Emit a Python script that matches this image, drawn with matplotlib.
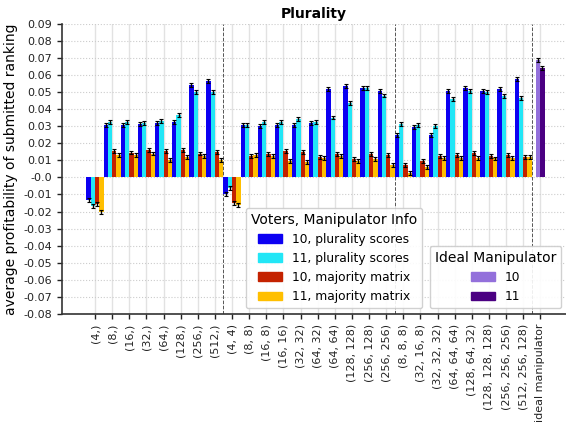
import matplotlib
matplotlib.use("Agg")
import matplotlib.pyplot as plt
import numpy as np
from matplotlib.patches import Patch

categories = ["(4,)", "(8,)", "(16,)", "(32,)", "(64,)", "(128,)", "(256,)", "(512,)",
              "(4, 4)", "(8, 8)", "(16, 8)", "(16, 16)", "(32, 32)", "(64, 32)", "(64, 64)",
              "(128, 128)", "(256, 128)", "(256, 256)",
              "(8, 8, 8)", "(32, 16, 8)", "(32, 32, 32)", "(64, 64, 64)", "(128, 64, 32)",
              "(128, 128, 128)", "(256, 256, 256)", "(512, 256, 128)"]
ideal_label = "ideal manipulator"

v10_plur = [-0.0132, 0.0307, 0.0305, 0.0311, 0.0317, 0.0322, 0.0541, 0.0563,
            -0.0097, 0.0305, 0.0301, 0.0307, 0.0307, 0.0320, 0.0516, 0.0535, 0.0523, 0.0504,
            0.0248, 0.0293, 0.0246, 0.0504, 0.0522, 0.0504, 0.0516, 0.0574]
v11_plur = [-0.0166, 0.0322, 0.0322, 0.0318, 0.0328, 0.0365, 0.0498, 0.0500,
            -0.0064, 0.0305, 0.0324, 0.0326, 0.0342, 0.0322, 0.0350, 0.0436, 0.0521, 0.0479,
            0.0311, 0.0305, 0.0299, 0.0457, 0.0506, 0.0500, 0.0475, 0.0463]
v10_maj = [-0.0156, 0.0156, 0.0145, 0.0158, 0.0155, 0.0162, 0.0139, 0.0147,
           -0.0148, 0.0125, 0.0135, 0.0155, 0.0149, 0.0119, 0.0137, 0.0108, 0.0137, 0.0129,
           0.0071, 0.0094, 0.0123, 0.0129, 0.0143, 0.0127, 0.0129, 0.0117]
v11_maj = [-0.0204, 0.0133, 0.0133, 0.0139, 0.0100, 0.0121, 0.0127, 0.0100,
           -0.0164, 0.0131, 0.0123, 0.0096, 0.0092, 0.0112, 0.0123, 0.0096, 0.0106, 0.0071,
           0.0024, 0.0061, 0.0113, 0.0113, 0.0115, 0.0111, 0.0115, 0.0117]
ideal_vals = [0.0685, 0.0639]
err_series = [0.0011, 0.0011, 0.0011, 0.0011]
err_ideal = [0.0011, 0.0011]

series_labels = ["10, plurality scores", "11, plurality scores",
                 "10, majority matrix", "11, majority matrix"]
series_colors = ["#0c00f2", "#22e6f6", "#c42200", "#ffbf00"]
ideal_labels = ["10", "11"]
ideal_colors = ["#9370db", "#4b0082"]
yticks = [round(-0.08 + 0.01 * i, 2) for i in range(18)]
ytick_labels = [("-0.0" if abs(t) < 1e-9 else str(t)) for t in yticks]
group_bounds = [7.5, 17.5, 25.5]

fig = plt.figure(figsize=(5.66, 4.29), dpi=100)
ax = fig.add_axes([0.1095, 0.268, 0.8905, 0.677])

n = len(categories)
x = np.arange(n)
w = 0.25
offsets = [-1.5 * w, -0.5 * w, 0.5 * w, 1.5 * w]
all_series = [v10_plur, v11_plur, v10_maj, v11_maj]
for vals, off, col, e in zip(all_series, offsets, series_colors, err_series):
    ax.bar(x + off, vals, width=w, color=col, yerr=e, capsize=1.2,
           error_kw=dict(ecolor="black", elinewidth=1.0, capthick=0.8), zorder=3)

xi = n
for val, off, col, e in zip(ideal_vals, [-0.5 * w, 0.5 * w], ideal_colors, err_ideal):
    ax.bar(xi + off, val, width=w, color=col, yerr=e, capsize=1.2,
           error_kw=dict(ecolor="black", elinewidth=1.0, capthick=0.8), zorder=3)

for b in group_bounds:
    ax.axvline(b, color="#555555", linestyle="--", linewidth=0.7, zorder=2)

ax.set_xticks(list(x) + [xi])
ax.set_xticklabels(categories + [ideal_label], rotation=90, fontsize=8)
ax.set_yticks(yticks)
ax.set_yticklabels(ytick_labels, fontsize=8)
ax.set_ylim(-0.08, 0.09)
ax.set_xlim(-1.93, 27.5)
ax.set_ylabel("average profitability of submitted ranking", fontsize=10)
ax.set_title("Plurality", fontsize=10, fontweight="bold", pad=4)

ax.xaxis.grid(True, color="#e2e2e2", linewidth=1.0, linestyle="-", zorder=0)
ax.yaxis.grid(True, color="#cccccc", linewidth=0.8, linestyle=":", zorder=0)
ax.set_axisbelow(True)
for s in ["top", "right"]:
    ax.spines[s].set_visible(False)
for s in ["left", "bottom"]:
    ax.spines[s].set_color("#333333")
    ax.spines[s].set_linewidth(1.2)
ax.tick_params(colors="#222222", length=3.5, width=1.0)

h1 = [Patch(color=c, label=l) for c, l in zip(series_colors, series_labels)]
leg1 = ax.legend(handles=h1, title="Voters, Manipulator Info", fontsize=8.8,
                 title_fontsize=10, loc="lower left",
                 bbox_to_anchor=((246 - 62) / 504, (429 - 308 - 115) / 290.3 + 0.0),
                 borderaxespad=0, framealpha=0.9)
ax.add_artist(leg1)
h2 = [Patch(color=c, label=l) for c, l in zip(ideal_colors, ideal_labels)]
leg2 = ax.legend(handles=h2, title="Ideal Manipulator", fontsize=8.8,
                 title_fontsize=10, loc="lower right",
                 bbox_to_anchor=((561 - 62) / 504, (429 - 308 - 115) / 290.3),
                 borderaxespad=0, framealpha=0.9)

fig.savefig("out.png", dpi=100)
